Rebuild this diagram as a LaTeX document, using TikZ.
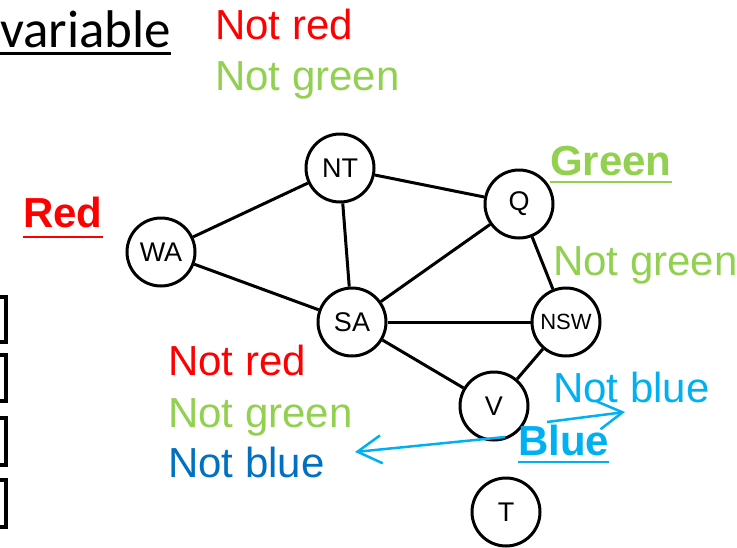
\documentclass[tikz,border=0pt]{standalone}
\usepackage{fontspec}
\setmainfont{Liberation Sans}
\newfontfamily\calibrifont{Carlito}
\usetikzlibrary{arrows.meta}
\definecolor{cspred}{HTML}{FF0000}
\definecolor{cspgreen}{HTML}{92D050}
\definecolor{cspblue}{HTML}{0070C0}
\definecolor{csplight}{HTML}{00B0F0}
\begin{document}
\begin{tikzpicture}[x=1pt, y=-1pt,
	land/.style={circle, draw, line width=3pt, minimum size=68pt, inner sep=0pt, font=\fontsize{27}{27}\selectfont},
	border/.style={line width=3pt},
	note/.style={anchor=base west, inner sep=0pt, font=\fontsize{42}{42}\selectfont},
	pick/.style={anchor=base west, inner sep=0pt, font=\fontsize{42}{42}\selectfont\bfseries},
	uline/.style={line width=2.8pt},
	hint/.style={-{Straight Barb[length=24pt,width=28pt]}, line width=2.5pt, csplight}]
\useasboundingbox (0,0) rectangle (737,547);
% Kaestchen am linken Rand
\foreach \top/\bot in {297/342, 355/401, 418/465, 480/527}
	\draw[line width=3.2pt] (-30,\top) rectangle (6,\bot);
% Ueberschrift
\node[anchor=base west, inner sep=0pt, font=\calibrifont\fontsize{53}{53}\selectfont] (var) at (0,47) {variable};
\draw[line width=3pt] (0,53) -- (var.base east |- 0,53);
\node[note, cspred] (topred) at (215,39) {Not red};
\node[note, cspgreen] (topgreen) at (215,90) {Not green};
% Knoten der Karte
\node[land] (NT) at (340,168) {NT};
\node[land] (WA) at (161,252) {WA};
\node[land] (SA) at (352,322) {SA};
\node[land] (Q) at (519,204) {Q};
\node[land, font=\fontsize{22}{22}\selectfont] (NSW) at (566,322) {NSW};
\node[land] (V) at (494,406) {V};
\node[land] (T) at (506,512) {T};
% Kanten
\draw[border] (WA) -- (NT);
\draw[border] (WA) -- (SA);
\draw[border] (NT) -- (SA);
\draw[border] (NT) -- (Q);
\draw[border] (SA) -- (Q);
\draw[border] (SA) -- (NSW);
\draw[border] (SA) -- (V);
\draw[border] (Q) -- (NSW);
\draw[border] (NSW) -- (V);
% Zuweisungen
\node[pick, cspred] (red) at (23,227) {Red};
\draw[uline, cspred] ([yshift=-10pt]red.base west) -- ([yshift=-10pt]red.base east);
\node[pick, cspgreen] (green) at (550,175) {Green};
\draw[uline, cspgreen] ([yshift=-7pt]green.base west) -- ([yshift=-7pt]green.base east);
\node[pick, csplight] (blue) at (518,455) {Blue};
\draw[uline, csplight] ([yshift=-7pt]blue.base west) -- ([yshift=-7pt]blue.base east);
% Einschraenkungen
\node[note, cspgreen] (qgreen) at (553,275) {Not green};
\node[note, csplight] (nswblue) at (553,402) {Not blue};
\node[note, cspred] (sared) at (168,375) {Not red};
\node[note, cspgreen] (sagreen) at (168,427) {Not green};
\node[note, cspblue] (sablue) at (168,477) {Not blue};
% Pfeile
\coordinate (vleft) at (505,437);
\coordinate (saend) at (355,452);
\coordinate (vright) at (547,422);
\coordinate (nswend) at (625,412);
\draw[hint] (vleft) -- (saend);
\draw[hint] (vright) -- (nswend);
\end{tikzpicture}
\end{document}
